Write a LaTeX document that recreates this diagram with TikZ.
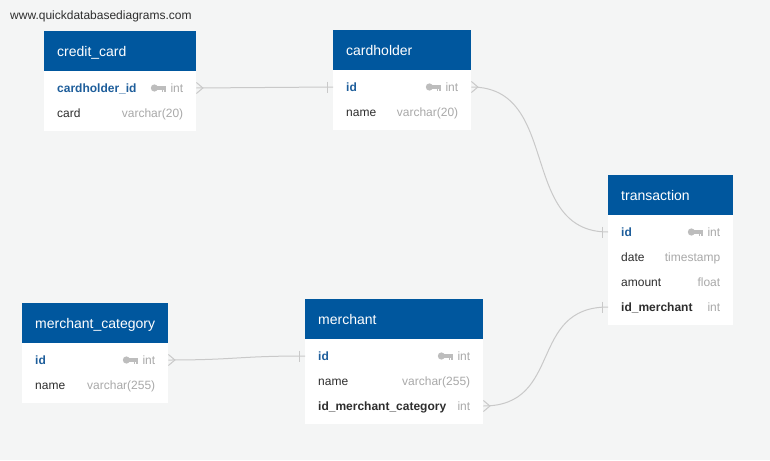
\documentclass[tikz,border=0pt]{standalone}
\usepackage{fontspec}
\setmainfont{Liberation Sans}
\usetikzlibrary{calc}
\definecolor{bgc}{HTML}{F4F5F5}
\definecolor{hdrblue}{HTML}{00579E}
\definecolor{pkblue}{HTML}{1E5E9B}
\definecolor{darktxt}{HTML}{2E2E2E}
\definecolor{typgray}{HTML}{A9A9A9}
\definecolor{linegray}{HTML}{C9C9C9}
\definecolor{keygray}{HTML}{BDBDBD}
\newcommand\erdtable[6]{%
 \node[hdr, minimum width=#4pt] (#1) at (#2,#3) {};
 \node[bodyb, minimum width=#4pt, minimum height=#5pt] (#1b) at (#2,#3+40) {};
 \node[title] (#1n) at ($(#1.west)+(13,5)$) {#6};
}
\newcommand\erdrow[7]{%
 \node[row, minimum width=#4pt] (#1) at (#2,#3) {};
 \node[#5] (#1n) at ($(#1.west)+(13,4.5)$) {#6};
 \node[typ] (#1t) at ($(#1.east)+(-13,4.5)$) {#7};
}
\newcommand\crowfoot[1]{%
 \draw[conn] ($(#1)+(0,-5.5)$) -- ($(#1)+(6.5,0)$) -- ($(#1)+(0,5.5)$);
}
\newcommand\onebar[1]{%
 \draw[conn] ($(#1)+(-6,-5.5)$) -- ($(#1)+(-6,5.5)$);
}
\begin{document}
\begin{tikzpicture}[x=1pt,y=-1pt,
  hdr/.style={fill=hdrblue, inner sep=0, anchor=north west, minimum height=40pt},
  bodyb/.style={fill=white, inner sep=0, anchor=north west},
  row/.style={inner sep=0, minimum height=25pt, anchor=west},
  title/.style={text=white, font=\fontsize{14}{16}\selectfont, inner sep=0, anchor=base west},
  pk/.style={text=pkblue, font=\bfseries\fontsize{12}{14}\selectfont, inner sep=0, anchor=base west},
  fk/.style={text=darktxt, font=\bfseries\fontsize{12}{14}\selectfont, inner sep=0, anchor=base west},
  col/.style={text=darktxt, font=\fontsize{12}{14}\selectfont, inner sep=0, anchor=base west},
  typ/.style={text=typgray, font=\fontsize{12}{14}\selectfont, inner sep=0, anchor=base east},
  site/.style={text=darktxt, font=\fontsize{12}{14}\selectfont, inner sep=0, anchor=base west},
  conn/.style={draw=linegray, line width=1pt},
  keyic/.pic={
    \fill[keygray] (0,0) circle (3.6pt);
    \fill[keygray] (2,-1.7) rectangle (11.5,1.5);
    \fill[keygray] (7.4,1.4) rectangle (9,3.6);
    \fill[keygray] (9.9,1.4) rectangle (11.5,3.6);
  }]
\fill[bgc] (0,0) rectangle (770,460);
\useasboundingbox (0,0) rectangle (770,460);
\node[site] (site) at (10,20) {www.quickdatabasediagrams.com};

% credit_card
\erdtable{cc}{44}{31}{152}{60}{credit\_card}
\erdrow{cc1}{44}{88}{152}{pk}{cardholder\_id}{int}
\pic (cc1k) at ($(cc1.east)+(-42,0)$) {keyic};
\erdrow{cc2}{44}{113}{152}{col}{card}{varchar(20)}

% cardholder
\erdtable{ch}{333}{30}{138}{60}{cardholder}
\erdrow{ch1}{333}{87}{138}{pk}{id}{int}
\pic (ch1k) at ($(ch1.east)+(-42,0)$) {keyic};
\erdrow{ch2}{333}{112}{138}{col}{name}{varchar(20)}

% transaction
\erdtable{tr}{608}{175}{125}{110}{transaction}
\erdrow{tr1}{608}{232}{125}{pk}{id}{int}
\pic (tr1k) at ($(tr1.east)+(-42,0)$) {keyic};
\erdrow{tr2}{608}{257}{125}{col}{date}{timestamp}
\erdrow{tr3}{608}{282}{125}{col}{amount}{float}
\erdrow{tr4}{608}{307}{125}{fk}{id\_merchant}{int}

% merchant_category
\erdtable{mc}{22}{303}{146}{60}{merchant\_category}
\erdrow{mc1}{22}{360}{146}{pk}{id}{int}
\pic (mc1k) at ($(mc1.east)+(-42,0)$) {keyic};
\erdrow{mc2}{22}{385}{146}{col}{name}{varchar(255)}

% merchant
\erdtable{me}{305}{299}{178}{85}{merchant}
\erdrow{me1}{305}{356}{178}{pk}{id}{int}
\pic (me1k) at ($(me1.east)+(-42,0)$) {keyic};
\erdrow{me2}{305}{381}{178}{col}{name}{varchar(255)}
\erdrow{me3}{305}{406}{178}{fk}{id\_merchant\_category}{int}

% connectors
\draw[conn] (cc1.east) .. controls +(68,0) and +(-68,0) .. (ch1.west);
\crowfoot{cc1.east}
\onebar{ch1.west}

\draw[conn] (ch1.east) .. controls +(90,0) and +(-90,0) .. (tr1.west);
\crowfoot{ch1.east}
\onebar{tr1.west}

\draw[conn] (mc1.east) .. controls +(68,0) and +(-68,0) .. (me1.west);
\crowfoot{mc1.east}
\onebar{me1.west}

\draw[conn] (me3.east) .. controls +(80,0) and +(-80,0) .. (tr4.west);
\crowfoot{me3.east}
\onebar{tr4.west}
\end{tikzpicture}
\end{document}
